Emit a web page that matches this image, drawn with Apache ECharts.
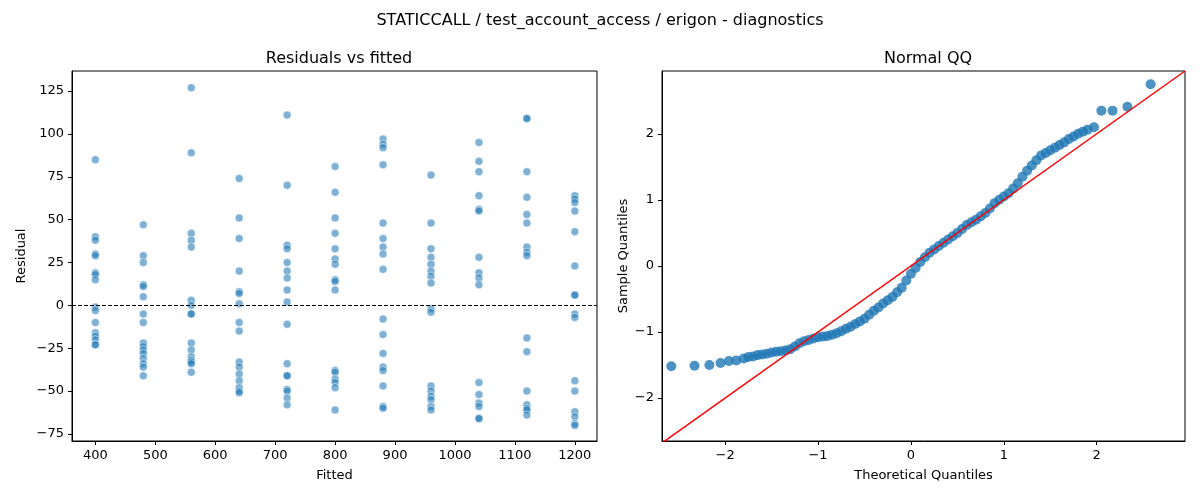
<!DOCTYPE html>
<html>
<head>
<meta charset="UTF-8">
<title>diagnostics</title>
<script src="https://cdn.jsdelivr.net/npm/echarts@6/dist/echarts.min.js"></script>
<style type="text/css">
	* {margin: 0; padding: 0;}
	body {background: #fff;}
</style>
</head>
<body>
<div id="chart" style="width:1200px;height:500px"></div>
<script type="text/javascript">
// fitted levels and residuals
var fittedLevels = [400, 480, 560, 640, 720, 800, 880, 960, 1040, 1120, 1200];
var residuals = [
	[85, 40, 38, 30, 29, 19, 18, 15, -1, -3, -10, -16, -18, -20, -23, -23],
	[47, 29, 25, 12, 11, 5, -5, -10, -22, -24, -26, -28, -31, -34, -36, -41],
	[127, 89, 42, 38, 34, 3, 0, -5, -5, -22, -26, -30, -32, -33, -34, -39],
	[74, 51, 39, 20, 8, 7, 1, -10, -15, -33, -36, -40, -44, -48, -50, -51],
	[111, 70, 35, 33, 25, 20, 16, 9, 2, -11, -34, -41, -41, -49, -50, -54, -58],
	[81, 66, 51, 42, 33, 27, 24, 15, 14, 9, -38, -39, -43, -45, -48, -61],
	[97, 94, 92, 82, 48, 39, 34, 30, 21, -8, -17, -28, -36, -38, -47, -59, -60],
	[76, 48, 33, 28, 24, 20, 17, 13, -2, -4, -47, -50, -53, -55, -59, -61],
	[95, 84, 78, 64, 56, 55, 28, 19, 16, 12, -45, -52, -57, -59, -66, -66],
	[109, 109, 78, 63, 53, 48, 34, 31, 29, -19, -27, -50, -58, -60, -61, -64],
	[64, 62, 60, 55, 43, 23, 6, 6, -5, -7, -44, -50, -62, -65, -69, -70]
];

// QQ points (theoretical, sample)
var qqTheoretical = [-2.58, -2.33, -2.17, -2.05, -1.96, -1.88, -1.8, -1.75, -1.7, -1.65, -1.6, -1.55, -1.5, -1.45, -1.4, -1.35, -1.3, -1.25, -1.2, -1.15, -1.1, -1.05, -1.0, -0.95, -0.9, -0.85, -0.8, -0.75, -0.7, -0.65, -0.6, -0.55, -0.5, -0.45, -0.4, -0.35, -0.3, -0.25, -0.2, -0.15, -0.1, -0.05, 0, 0.05, 0.1, 0.15, 0.2, 0.25, 0.3, 0.35, 0.4, 0.45, 0.5, 0.55, 0.6, 0.65, 0.7, 0.75, 0.8, 0.85, 0.9, 0.95, 1.0, 1.05, 1.1, 1.15, 1.2, 1.25, 1.3, 1.35, 1.4, 1.45, 1.5, 1.55, 1.6, 1.65, 1.7, 1.75, 1.8, 1.85, 1.9, 1.97, 2.05, 2.17, 2.33, 2.58];
var qqSample = [-1.52, -1.51, -1.5, -1.47, -1.44, -1.43, -1.4, -1.38, -1.37, -1.35, -1.34, -1.33, -1.31, -1.3, -1.29, -1.28, -1.26, -1.22, -1.17, -1.14, -1.12, -1.1, -1.08, -1.07, -1.06, -1.04, -1.02, -0.99, -0.95, -0.92, -0.88, -0.84, -0.8, -0.74, -0.68, -0.63, -0.57, -0.52, -0.47, -0.4, -0.33, -0.22, -0.12, -0.03, 0.06, 0.13, 0.2, 0.25, 0.3, 0.35, 0.4, 0.45, 0.5, 0.56, 0.62, 0.66, 0.7, 0.75, 0.8, 0.87, 0.95, 1.0, 1.05, 1.1, 1.17, 1.25, 1.35, 1.44, 1.52, 1.6, 1.67, 1.71, 1.75, 1.79, 1.83, 1.87, 1.92, 1.96, 2.0, 2.03, 2.06, 2.1, 2.35, 2.35, 2.41, 2.75];

var qqRange = [-2.68, 2.95];

var resData = [];
for (var i = 0; i < fittedLevels.length; i++) {
	for (var j = 0; j < residuals[i].length; j++) {
		resData.push([fittedLevels[i], residuals[i][j]]);
	}
}
var qqData = qqTheoretical.map(function (x, k) { return [x, qqSample[k]]; });

var font = 'DejaVu Sans';
var minus = function (v) { return String(v).replace('-', '\u2212'); };
var axisLine = {show: true, onZero: false, lineStyle: {color: '#000', width: 1}};
var axisTick = {show: true, length: 4, lineStyle: {color: '#000'}};
var axisLabel = {color: '#000', fontSize: 13, fontFamily: font, formatter: minus};
var nameStyle = {color: '#000', fontSize: 13, fontFamily: font};

var chart = echarts.init(document.getElementById('chart'));
chart.setOption({
	animation: false,
	title: [
		{text: 'STATICCALL / test_account_access / erigon - diagnostics', left: 'center', top: 8,
			textStyle: {fontSize: 16, fontWeight: 'normal', fontFamily: font, color: '#000'}},
		{text: 'Residuals vs fitted', left: 334, top: 46, textAlign: 'center',
			textStyle: {fontSize: 16, fontWeight: 'normal', fontFamily: font, color: '#000'}},
		{text: 'Normal QQ', left: 923, top: 46, textAlign: 'center',
			textStyle: {fontSize: 16, fontWeight: 'normal', fontFamily: font, color: '#000'}}
	],
	grid: [
		{left: 72, top: 71, width: 525, height: 370, show: true, borderColor: '#000', borderWidth: 1},
		{left: 662, top: 71, width: 523, height: 370, show: true, borderColor: '#000', borderWidth: 1}
	],
	xAxis: [
		{gridIndex: 0, type: 'value', min: 361, max: 1237, name: 'Fitted', nameLocation: 'middle', nameGap: 28,
			nameTextStyle: nameStyle, axisLine: axisLine, splitLine: {show: false},
			axisTick: Object.assign({customValues: [400, 500, 600, 700, 800, 900, 1000, 1100, 1200]}, axisTick),
			axisLabel: Object.assign({}, axisLabel, {customValues: [400, 500, 600, 700, 800, 900, 1000, 1100, 1200]})},
		{gridIndex: 1, type: 'value', min: qqRange[0], max: qqRange[1], name: 'Theoretical Quantiles', nameLocation: 'middle', nameGap: 28,
			nameTextStyle: nameStyle, axisLine: axisLine, splitLine: {show: false},
			axisTick: Object.assign({customValues: [-2, -1, 0, 1, 2]}, axisTick),
			axisLabel: Object.assign({}, axisLabel, {customValues: [-2, -1, 0, 1, 2]})}
	],
	yAxis: [
		{gridIndex: 0, type: 'value', min: -79.1, max: 136.7, name: 'Residual', nameLocation: 'middle', nameGap: 44,
			nameTextStyle: nameStyle, axisLine: axisLine, splitLine: {show: false},
			axisTick: Object.assign({customValues: [-75, -50, -25, 0, 25, 50, 75, 100, 125]}, axisTick),
			axisLabel: Object.assign({}, axisLabel, {customValues: [-75, -50, -25, 0, 25, 50, 75, 100, 125]})},
		{gridIndex: 1, type: 'value', min: -2.65, max: 2.95, name: 'Sample Quantiles', nameLocation: 'middle', nameGap: 32,
			nameTextStyle: nameStyle, axisLine: axisLine, splitLine: {show: false},
			axisTick: Object.assign({customValues: [-2, -1, 0, 1, 2]}, axisTick),
			axisLabel: Object.assign({}, axisLabel, {customValues: [-2, -1, 0, 1, 2]})}
	],
	series: [
		{type: 'scatter', xAxisIndex: 0, yAxisIndex: 0, data: resData, symbolSize: 8,
			itemStyle: {color: 'rgba(31,119,180,0.72)', borderColor: '#fff', borderWidth: 0.6},
			markLine: {silent: true, symbol: 'none', label: {show: false},
				lineStyle: {color: '#000', type: [4, 2], width: 1}, data: [{yAxis: 0}]}},
		{type: 'line', xAxisIndex: 1, yAxisIndex: 1, data: [[qqRange[0], qqRange[0]], [qqRange[1], qqRange[1]]],
			symbol: 'none', lineStyle: {color: '#ff0000', width: 1.5}, z: 3},
		{type: 'scatter', xAxisIndex: 1, yAxisIndex: 1, data: qqData, symbolSize: 10,
			itemStyle: {color: '#1f77b4'}, z: 2}
	]
});
</script>
</body>
</html>
